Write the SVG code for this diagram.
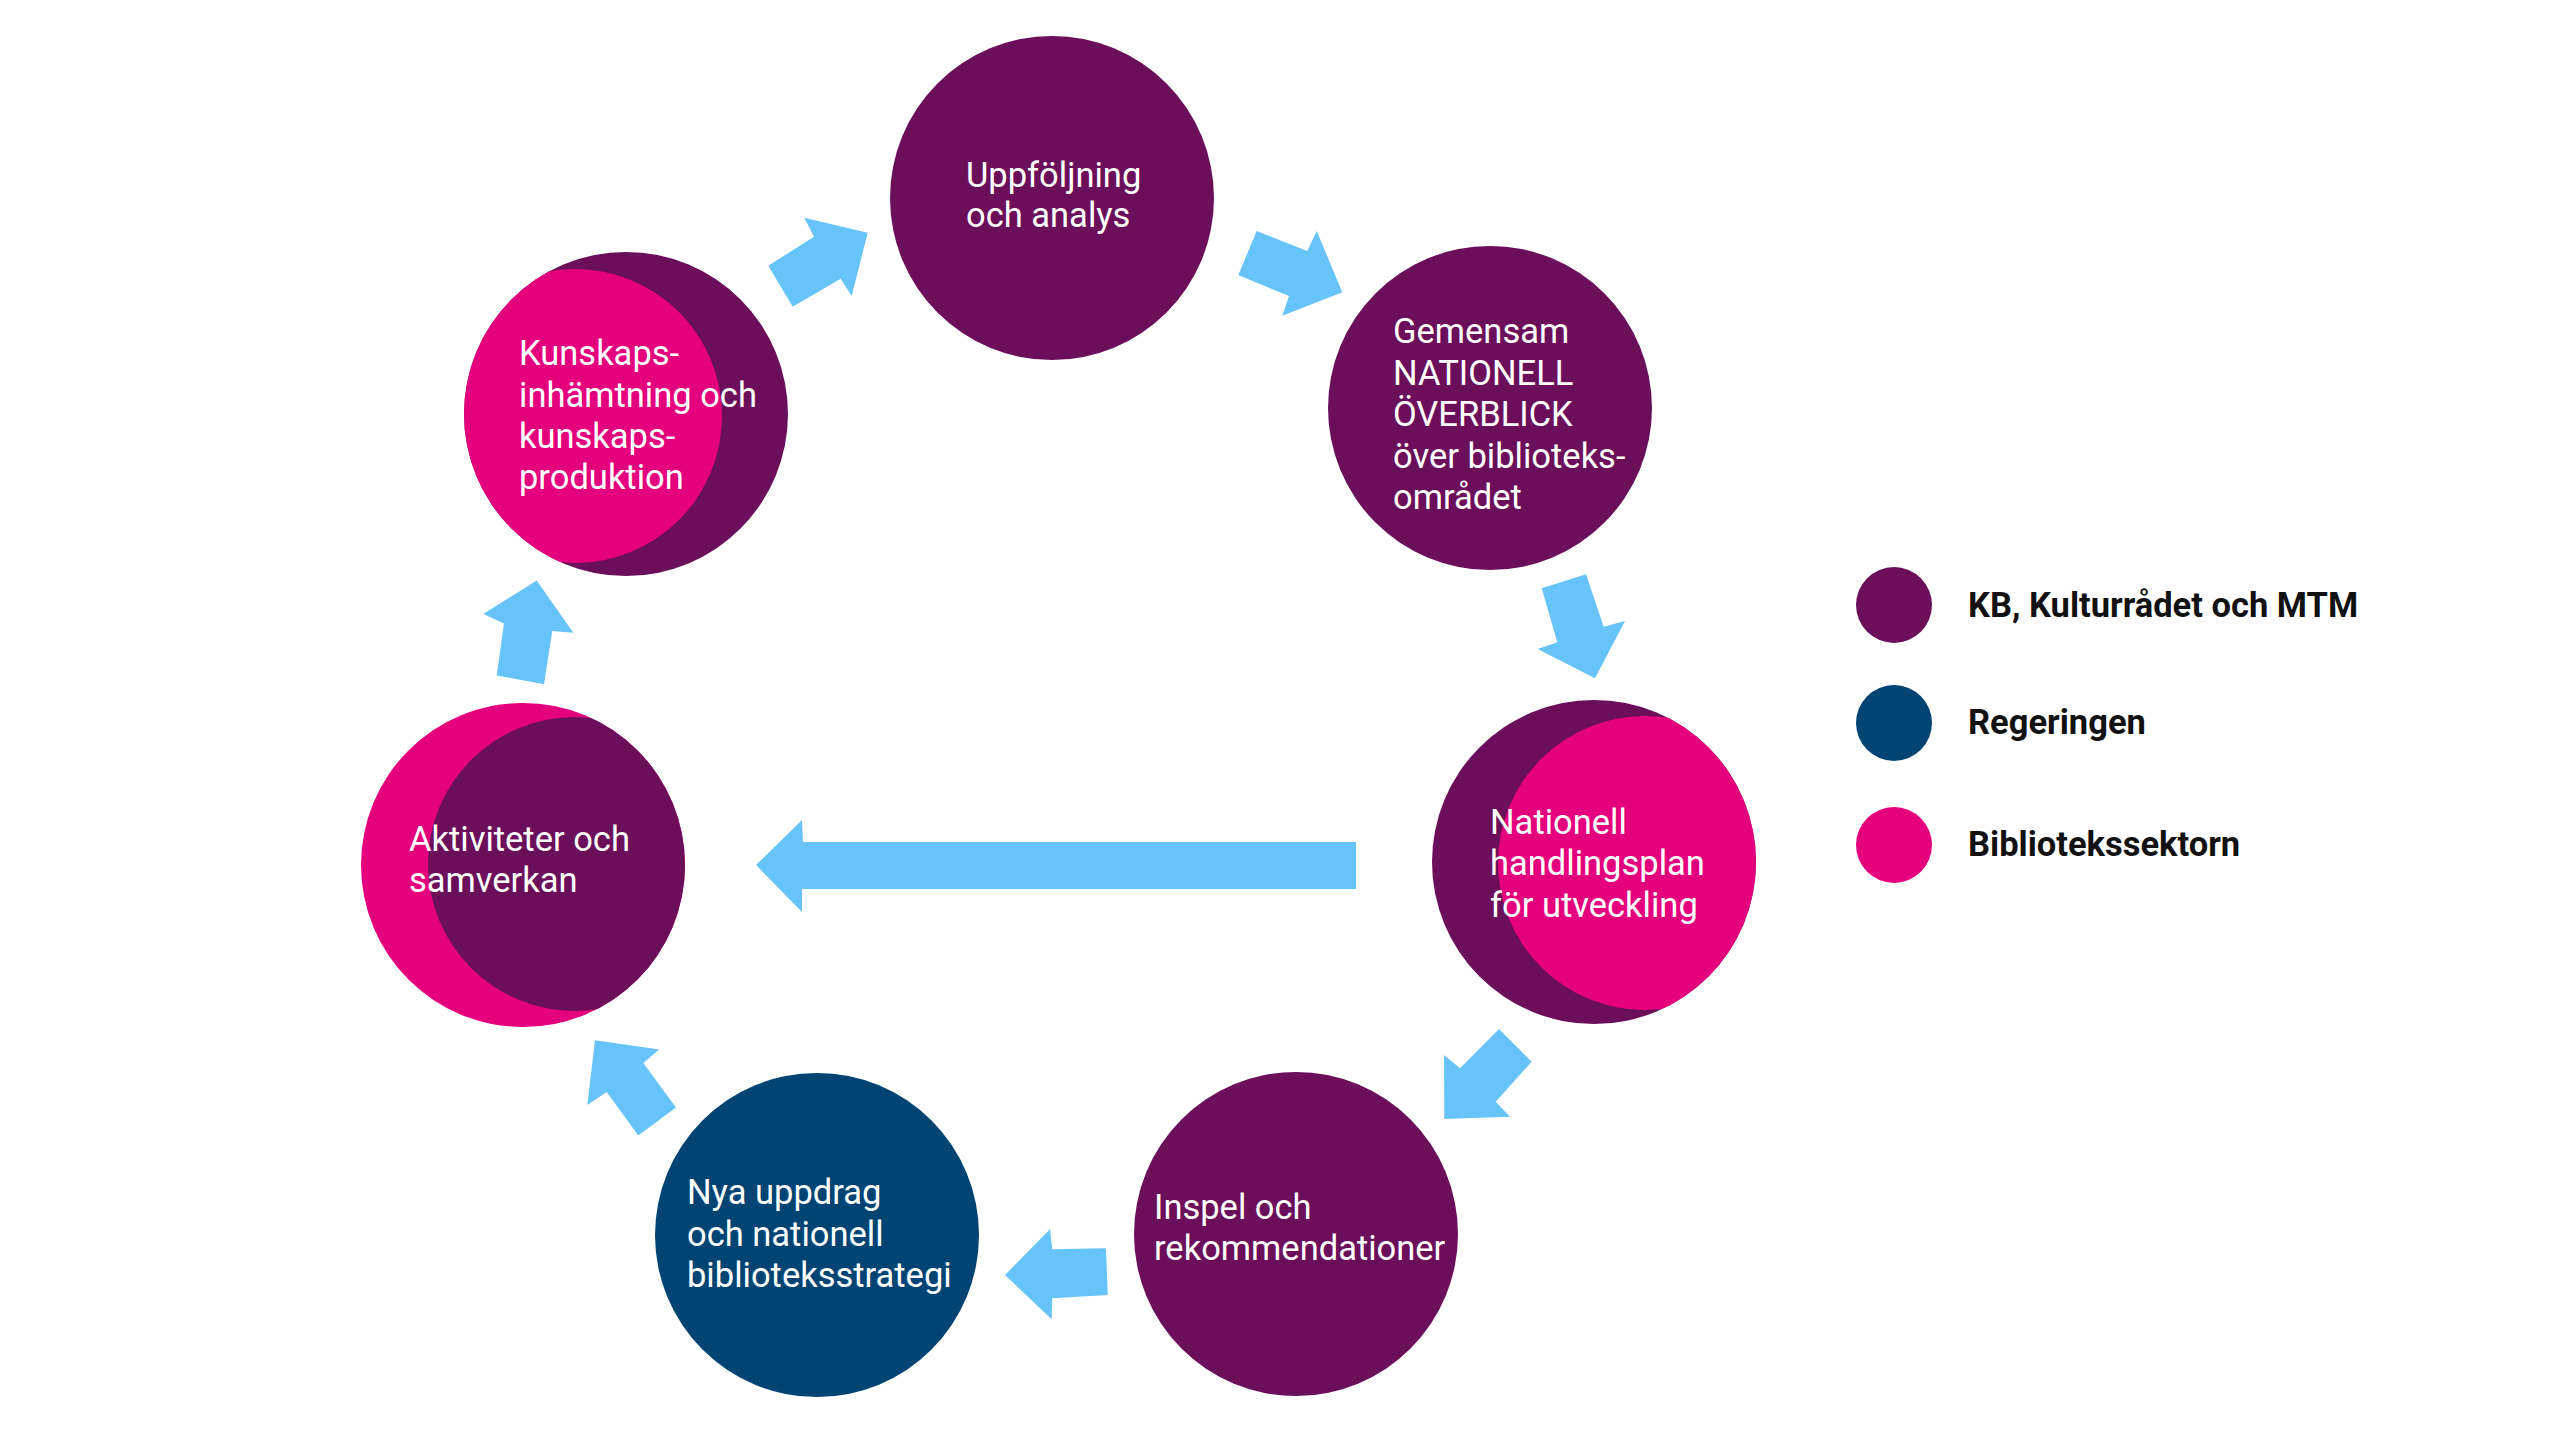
<svg xmlns="http://www.w3.org/2000/svg" width="2558" height="1439" viewBox="0 0 2558 1439">
<style>
.purple{fill:#6C0F5B}
.pink{fill:#E5007D}
.navy{fill:#004474}
.arrow{fill:#66C4FB}
.lbl{font-family:Roboto,"Liberation Sans",sans-serif;font-size:34.5px;fill:#FFFFFF}
.leg{font-family:Roboto,"Liberation Sans",sans-serif;font-size:34.5px;font-weight:bold;fill:#111111}
</style>
<defs>
<clipPath id="clipKunskap"><circle cx="626" cy="414" r="162"/></clipPath>
<clipPath id="clipAktiv"><circle cx="523" cy="865" r="162"/></clipPath>
<clipPath id="clipHandling"><circle cx="1594" cy="862" r="162"/></clipPath>
</defs>
<rect width="2558" height="1439" fill="#FFFFFF"/>

<g id="connectors">
<polygon class="arrow" points="768.3,265.7 792.7,306.7 840.7,278.7 851.7,296 867.7,232.7 804.3,217.7 814,236.7"/>
<polygon class="arrow" points="1256.7,231 1307.3,251 1316.7,231 1342.3,292.3 1282.3,315.7 1289,296 1238.3,275"/>
<polygon class="arrow" points="1541.7,588.3 1586,574.3 1603.7,626.7 1625,621 1595,678.3 1537.7,649 1557.3,642.3"/>
<polygon class="arrow" points="1499,1029 1531.7,1061.7 1495.7,1101.7 1510,1116.7 1444.3,1119 1444,1055 1460,1068.3"/>
<polygon class="arrow" points="1005,1275 1050,1229.3 1052.3,1249.3 1106,1248.3 1107.7,1295 1052.3,1298.3 1051.7,1319.3"/>
<polygon class="arrow" points="595,1040.2 659.3,1049.4 643.3,1063.1 676,1107.6 638.3,1135.4 606.7,1092 587.3,1105"/>
<polygon class="arrow" points="536.7,580.6 573.3,632.8 552.3,630.9 544,684.3 496.7,675.4 504,623.5 483.3,613.9"/>
<polygon class="arrow" points="756,865 802,820 803,842 1356,842 1356,889 802,889 802,912"/>
</g>

<g id="node-uppfoljning">
<circle class="purple" cx="1052" cy="198" r="162"/>
<text class="lbl"><tspan x="966" y="187">Uppföljning</tspan><tspan x="966" y="227">och analys</tspan></text>
</g>

<g id="node-gemensam">
<circle class="purple" cx="1490" cy="408" r="162"/>
<text class="lbl"><tspan x="1393" y="343">Gemensam</tspan><tspan x="1393" y="385">NATIONELL</tspan><tspan x="1393" y="426">ÖVERBLICK</tspan><tspan x="1393" y="468">över biblioteks-</tspan><tspan x="1393" y="509">området</tspan></text>
</g>

<g id="node-handlingsplan">
<circle class="purple" cx="1594" cy="862" r="162"/>
<circle class="pink" cx="1645" cy="863" r="147" clip-path="url(#clipHandling)"/>
<text class="lbl"><tspan x="1490" y="834">Nationell</tspan><tspan x="1490" y="875">handlingsplan</tspan><tspan x="1490" y="917">för utveckling</tspan></text>
</g>

<g id="node-inspel">
<circle class="purple" cx="1296" cy="1234" r="162"/>
<text class="lbl"><tspan x="1154" y="1219">Inspel och</tspan><tspan x="1154" y="1260">rekommendationer</tspan></text>
</g>

<g id="node-nya-uppdrag">
<circle class="navy" cx="817" cy="1235" r="162"/>
<text class="lbl"><tspan x="687" y="1204">Nya uppdrag</tspan><tspan x="687" y="1246">och nationell</tspan><tspan x="687" y="1287">biblioteksstrategi</tspan></text>
</g>

<g id="node-aktiviteter">
<circle class="pink" cx="523" cy="865" r="162"/>
<circle class="purple" cx="575" cy="864" r="147" clip-path="url(#clipAktiv)"/>
<text class="lbl"><tspan x="409" y="851">Aktiviteter och</tspan><tspan x="409" y="892">samverkan</tspan></text>
</g>

<g id="node-kunskap">
<circle class="purple" cx="626" cy="414" r="162"/>
<circle class="pink" cx="575" cy="416" r="147" clip-path="url(#clipKunskap)"/>
<text class="lbl"><tspan x="519" y="365">Kunskaps-</tspan><tspan x="519" y="407">inhämtning och</tspan><tspan x="519" y="448">kunskaps-</tspan><tspan x="519" y="489">produktion</tspan></text>
</g>

<g id="legend">
<g id="legend-kb"><circle class="purple" cx="1894" cy="605" r="38"/><text class="leg" x="1968" y="617">KB, Kulturrådet och MTM</text></g>
<g id="legend-regeringen"><circle class="navy" cx="1894" cy="723" r="38"/><text class="leg" x="1968" y="734">Regeringen</text></g>
<g id="legend-bibliotek"><circle class="pink" cx="1894" cy="845" r="38"/><text class="leg" x="1968" y="856">Bibliotekssektorn</text></g>
</g>
</svg>
